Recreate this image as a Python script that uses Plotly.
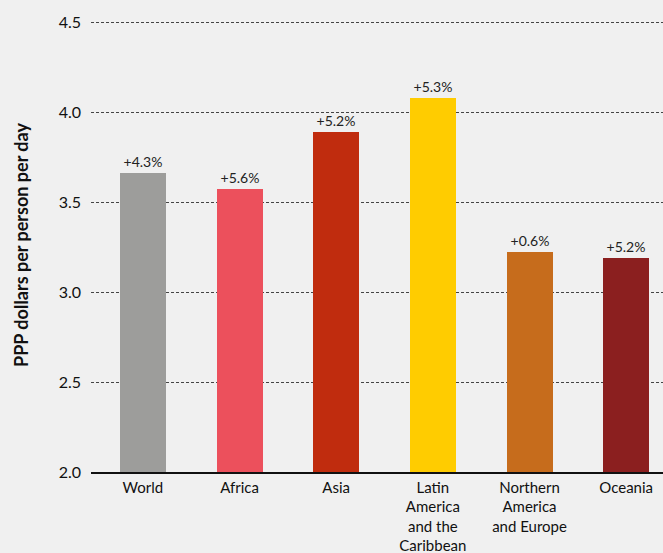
import plotly.graph_objects as go

categories = ["World", "Africa", "Asia", "Latin<br>America<br>and the<br>Caribbean",
              "Northern<br>America<br>and Europe", "Oceania"]
values = [3.66, 3.57, 3.89, 4.08, 3.22, 3.19]
labels = ["+4.3%", "+5.6%", "+5.2%", "+5.3%", "+0.6%", "+5.2%"]
colors = ["#9d9d9b", "#ec505c", "#c02c0e", "#ffcc00", "#c66c1c", "#8b1f1f"]
y_ticks = [2.0, 2.5, 3.0, 3.5, 4.0, 4.5]

FONT = "Lato"
BG = "#f0f0f0"

fig = go.Figure(go.Bar(
    x=list(range(len(categories))),
    y=values,
    base=0,
    marker=dict(color=colors, line=dict(width=0)),
    width=0.476,
    text=labels,
    textposition="outside",
    textfont=dict(family=FONT, size=14, color="#222222"),
    cliponaxis=False,
))

fig.update_layout(
    width=663, height=553,
    margin=dict(l=91, r=0, t=18, b=81),
    paper_bgcolor=BG, plot_bgcolor=BG,
    font=dict(family=FONT, color="#111111"),
    showlegend=False,
    bargap=0,
)
fig.update_xaxes(
    tickmode="array",
    tickvals=list(range(len(categories))),
    ticktext=categories,
    range=[-0.5364, 5.381],
    showgrid=False,
    showline=True, linecolor="#111111", linewidth=1.5,
    ticks="", tickfont=dict(family=FONT, size=15, color="#111111"),
    ticklabelstandoff=1,
)
fig.update_yaxes(
    range=[2.0, 4.5222],
    tickmode="array", tickvals=y_ticks,
    ticktext=[f"{v:.1f}" for v in y_ticks],
    showgrid=True, gridcolor="#444444", griddash="3px,2px", gridwidth=1,
    zeroline=False, showline=False,
    ticks="", tickfont=dict(family=FONT, size=16, color="#111111"),
    ticklabelstandoff=9,
    title=dict(text="<b>PPP dollars per person per day</b>",
               font=dict(family=FONT, size=18, color="#111111"), standoff=25),
)

fig.write_html("out.html", config={"displayModeBar": False},
               post_script="document.body.style.margin='0';document.body.style.overflow='hidden';")
